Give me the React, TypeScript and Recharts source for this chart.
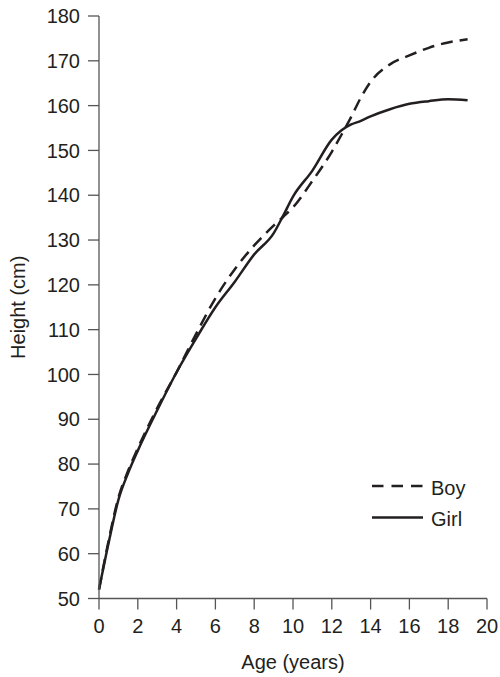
import React from 'react';
import { LineChart, Line, XAxis, YAxis, Legend } from 'recharts';

const ages = [0, 0.5, 1, 1.5, 2, 3, 4, 5, 6, 7, 8, 9, 9.5, 10, 11, 12, 12.5, 13, 13.5, 14, 15, 16, 17, 18, 19];
const boyHeights = [52, 63, 72.5, 78.5, 83.5, 92.5, 100.5, 109, 117, 123.5, 128.8, 133.2, 135.2, 137.3, 143.2, 149.7, 153.5, 157.5, 161.8, 165.3, 169.2, 171.2, 172.9, 174.1, 174.8];
const girlHeights = [52, 62.5, 72, 78, 83, 92, 100.5, 108, 115, 120.7, 126.8, 131.5, 135.5, 139.7, 145.5, 152.4, 154.5, 155.8, 156.6, 157.6, 159.2, 160.4, 161, 161.4, 161.2];

const xTicks = [0, 2, 4, 6, 8, 10, 12, 14, 16, 18, 20];
const yTicks = [50, 60, 70, 80, 90, 100, 110, 120, 130, 140, 150, 160, 170, 180];

const data = ages.map((a, i) => ({ age: a, boy: boyHeights[i], girl: girlHeights[i] }));

const FONT = '"Liberation Sans", Arial, Helvetica, sans-serif';
const INK = '#231f20';
const AXIS = '#555555';

const LegendContent = () => (
  <svg width={110} height={64} style={{ display: 'block' }}>
    <line x1={2} x2={53} y1={16} y2={16} stroke={INK} strokeWidth={2.5} strokeDasharray="11.5 8" />
    <text x={61} y={25} fontSize={20} fontFamily={FONT} fill={INK}>Boy</text>
    <line x1={2} x2={53} y1={47.5} y2={47.5} stroke={INK} strokeWidth={2.5} />
    <text x={61} y={56} fontSize={20} fontFamily={FONT} fill={INK}>Girl</text>
  </svg>
);

export default function App() {
  return (
    <div style={{ position: 'absolute', left: 0, top: 0, width: 500, height: 677, background: '#fff' }}>
      <LineChart width={500} height={677} data={data} margin={{ top: 16, right: 13, bottom: 22.5, left: 0 }}>
        <XAxis
          dataKey="age"
          type="number"
          domain={[0, 20]}
          ticks={xTicks}
          height={56}
          tickSize={11}
          tickMargin={9}
          stroke={AXIS}
          strokeWidth={1.3}
          tick={{ fontSize: 20, fontFamily: FONT, fill: INK }}
          label={{ value: 'Age (years)', position: 'bottom', offset: 0, style: { fontSize: 20, fontFamily: FONT, fill: INK } }}
        />
        <YAxis
          type="number"
          domain={[50, 180]}
          ticks={yTicks}
          width={99}
          tickSize={11}
          tickMargin={8}
          stroke={AXIS}
          strokeWidth={1.3}
          tick={{ fontSize: 20, fontFamily: FONT, fill: INK }}
          label={{ value: 'Height (cm)', angle: -90, position: 'insideLeft', offset: 18, style: { fontSize: 20, fontFamily: FONT, fill: INK, textAnchor: 'middle' } }}
        />
        <Legend
          layout="horizontal"
          verticalAlign="middle"
          align="center"
          content={<LegendContent />}
          wrapperStyle={{ position: 'absolute', left: 370, top: 470, width: 110, height: 64 }}
        />
        <Line type="monotone" dataKey="boy" name="Boy" stroke={INK} strokeWidth={2.5} strokeDasharray="12 7" dot={false} isAnimationActive={false} />
        <Line type="monotone" dataKey="girl" name="Girl" stroke={INK} strokeWidth={2.5} dot={false} isAnimationActive={false} />
      </LineChart>
    </div>
  );
}
